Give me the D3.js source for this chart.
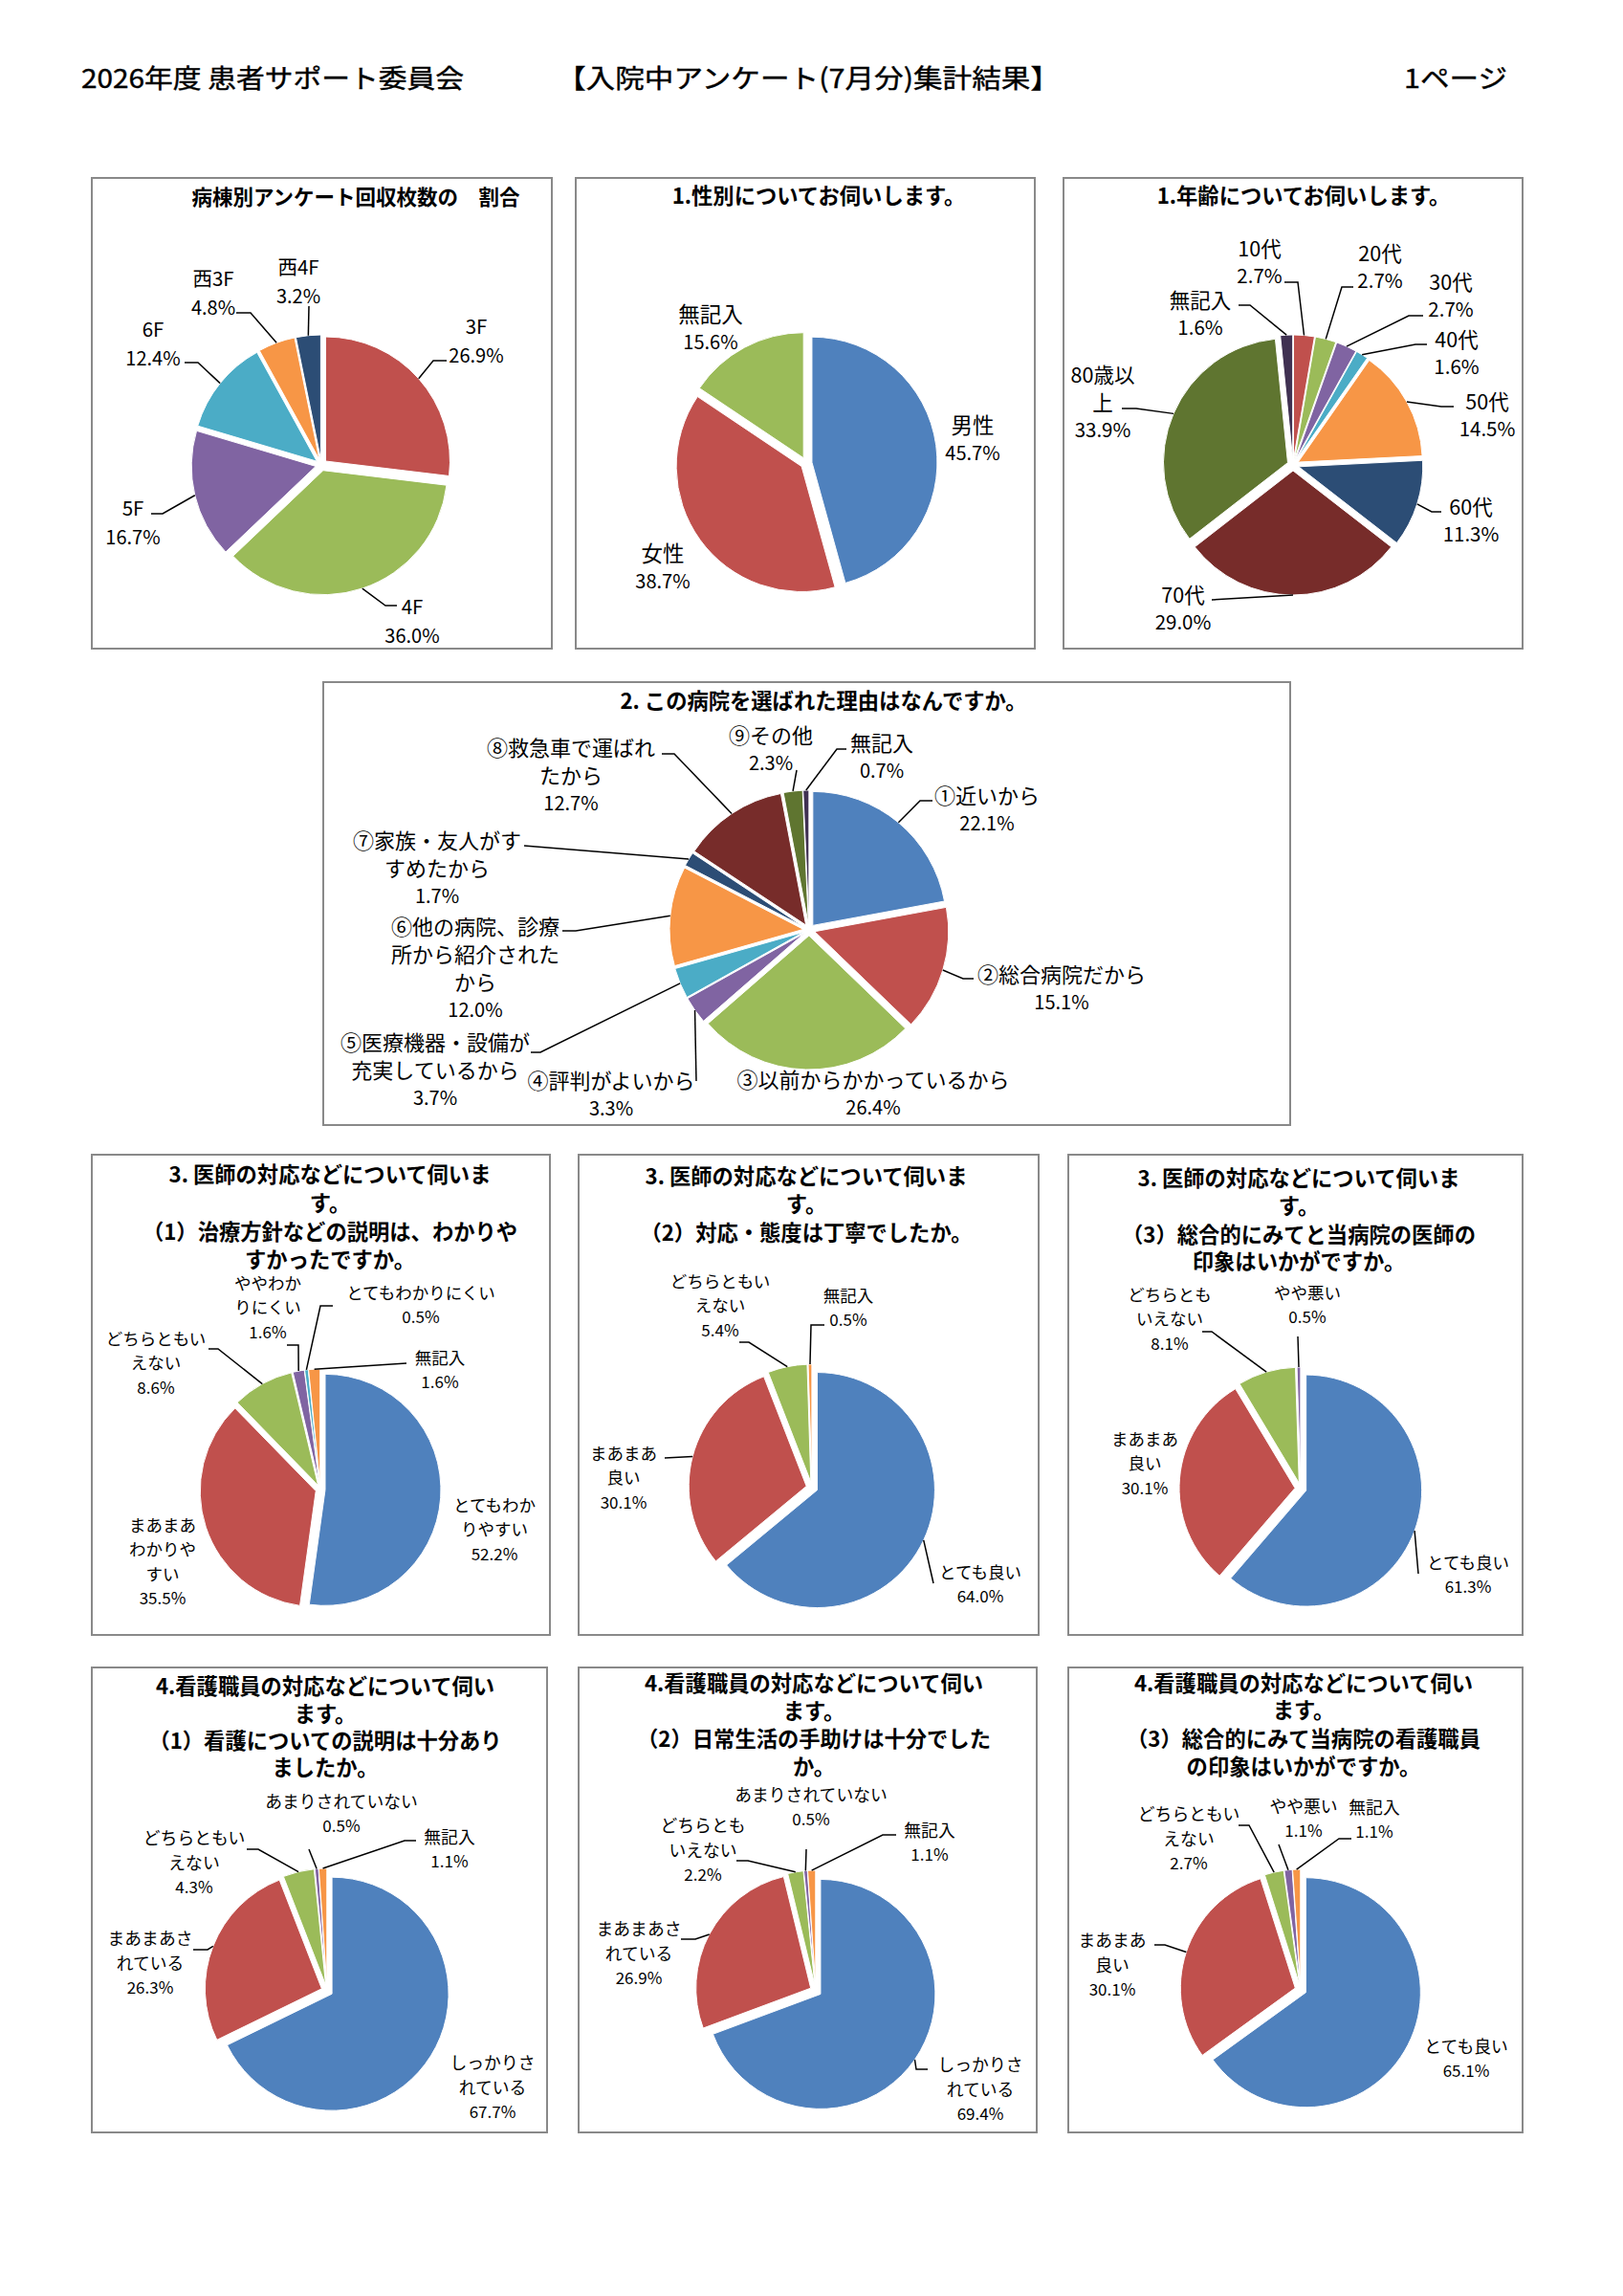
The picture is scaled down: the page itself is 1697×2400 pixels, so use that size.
<!DOCTYPE html>
<html><head><meta charset="utf-8">
<script src="https://cdn.jsdelivr.net/npm/d3@7"></script>
<style>body{margin:0;background:#fff}</style>
</head><body>
<svg id="c" width="1697" height="2400"></svg>
<script>
// ---------- DATA ----------
const wardLabels = ["3F","4F","5F","6F","西3F","西4F"];
const wardValues = [26.9,36.0,16.7,12.4,4.8,3.2];
const genderLabels = ["男性","女性","無記入"];
const genderValues = [45.7,38.7,15.6];
const ageLabels = ["10代","20代","30代","40代","50代","60代","70代","80歳以\n上","無記入"];
const ageValues = [2.7,2.7,2.7,1.6,14.5,11.3,29.0,33.9,1.6];
const reasonLabels = ["①近いから","②総合病院だから","③以前からかかっているから","④評判がよいから","⑤医療機器・設備が\n充実しているから","⑥他の病院、診療\n所から紹介された\nから","⑦家族・友人がす\nすめたから","⑧救急車で運ばれ\nたから","⑨その他","無記入"];
const reasonValues = [22.1,15.1,26.4,3.3,3.7,12.0,1.7,12.7,2.3,0.7];
const doc1Labels = ["とてもわか\nりやすい","まあまあ\nわかりや\nすい","どちらともい\nえない","ややわか\nりにくい","とてもわかりにくい","無記入"];
const doc1Values = [52.2,35.5,8.6,1.6,0.5,1.6];
const doc2Labels = ["とても良い","まあまあ\n良い","どちらともい\nえない","無記入"];
const doc2Values = [64.0,30.1,5.4,0.5];
const doc3Labels = ["とても良い","まあまあ\n良い","どちらとも\nいえない","やや悪い"];
const doc3Values = [61.3,30.1,8.1,0.5];
const nurse1Labels = ["しっかりさ\nれている","まあまあさ\nれている","どちらともい\nえない","あまりされていない","無記入"];
const nurse1Values = [67.7,26.3,4.3,0.5,1.1];
const nurse2Labels = ["しっかりさ\nれている","まあまあさ\nれている","どちらとも\nいえない","あまりされていない","無記入"];
const nurse2Values = [69.4,26.9,2.2,0.5,1.1];
const nurse3Labels = ["とても良い","まあまあ\n良い","どちらともい\nえない","やや悪い","無記入"];
const nurse3Values = [65.1,30.1,2.7,1.1,1.1];

const headerTexts = ["2026年度 患者サポート委員会","【入院中アンケート(7月分)集計結果】","1ページ"];
const titles = {
  ward:["病棟別アンケート回収枚数の　割合"],
  gender:["1.性別についてお伺いします。"],
  age:["1.年齢についてお伺いします。"],
  reason:["2. この病院を選ばれた理由はなんですか。"],
  doc1:["3. 医師の対応などについて伺いま","す。","（1）治療方針などの説明は、わかりや","すかったですか。"],
  doc2:["3. 医師の対応などについて伺いま","す。","（2）対応・態度は丁寧でしたか。"],
  doc3:["3. 医師の対応などについて伺いま","す。","（3）総合的にみてと当病院の医師の","印象はいかがですか。"],
  nurse1:["4.看護職員の対応などについて伺い","ます。","（1）看護についての説明は十分あり","ましたか。"],
  nurse2:["4.看護職員の対応などについて伺い","ます。","（2）日常生活の手助けは十分でした","か。"],
  nurse3:["4.看護職員の対応などについて伺い","ます。","（3）総合的にみて当病院の看護職員","の印象はいかがですか。"]
};

// ---------- STYLE / LAYOUT ----------
const C = {blue:"#4F81BD", red:"#C0504D", green:"#9BBB59", purple:"#8064A2", cyan:"#4BACC6",
  orange:"#F79646", navy:"#2C4D75", dred:"#772C2A", olive:"#5F7530", dpurple:"#403152"};
const FONT = "'Noto Sans CJK JP','Noto Sans',sans-serif";

const charts = [
 {labels:wardLabels, values:wardValues, title:titles.ward, colors:[C.red,C.green,C.purple,C.cyan,C.orange,C.navy],
  box:[96,186,577,678], tx:372, ty:[204], tfs:21.5, c:[336,486], r:130, e:6, cfs:20.5, pfs:20, lh:30,
  pos:[[162,-146],[95,147],[-197,44],[-176,-143],[-113,-196],[-24,-208]],
  lead:[[[131,-109],[117,-109]],[[79,147],[67,147]],[[-178,51],[-166,51]],[[-143,-107],[-129,-107]],[[-89,-159],[-74,-159]],[[-13,-166]]]},
 {labels:genderLabels, values:genderValues, title:titles.gender, colors:[C.blue,C.red,C.green],
  box:[602,186,1082,678], tx:856, ty:[203], tfs:22.3, c:[843,484], r:131, e:6, cfs:22.5, pfs:20, lh:29,
  pos:[[174,-41],[-150,93],[-100,-157]], lead:[null,null,null]},
 {labels:ageLabels, values:ageValues, title:titles.age, colors:[C.red,C.green,C.purple,C.cyan,C.orange,C.navy,C.dred,C.olive,C.dpurple],
  box:[1112,186,1592,678], tx:1363, ty:[203], tfs:22.3, c:[1352,486], r:130, e:6, cfs:21.5, pfs:20.5, lh:29,
  pos:[[-35,-228],[91,-223],[165,-193],[171,-133],[203,-68],[186,42],[-115,134],[-199,-96],[-97,-174]],
  lead:[[[-9,-191],[5,-191]],[[63,-186],[51,-186]],[[136,-156],[121,-156]],[[140,-126],[128,-126]],[[168,-61],[155,-61]],[[155,49],[145,49]],[[-85,141]],[[-179,-59],[-164,-59]],[[-57,-167],[-45,-167]]]},
 {labels:reasonLabels, values:reasonValues, title:titles.reason, colors:[C.blue,C.red,C.green,C.purple,C.cyan,C.orange,C.navy,C.dred,C.olive,C.dpurple],
  box:[338,713,1349,1176], tx:861, ty:[731], tfs:22.3, c:[846,972], r:140, e:6, cfs:22, pfs:20, lh:29,
  pos:[[186,-142],[264,45],[67,155],[-207,156],[-391,116],[-349,-5],[-389,-95],[-249,-192],[-40,-205],[76,-197]],
  lead:[[[129,-135],[116,-135]],[[172,51],[161,51]],null,[[-118,158]],[[-291,128],[-281,128]],[[-258,1],[-244,1]],[[-298,-88]],[[-154,-184],[-141,-184]],[[-13,-167]],[[39,-189],[29,-189]]]},
 {labels:doc1Labels, values:doc1Values, title:titles.doc1, colors:[C.blue,C.red,C.green,C.purple,C.cyan,C.orange],
  box:[96,1207,575,1709], tx:345, ty:[1226,1256,1286,1315], tfs:22.3, c:[335,1557], r:121, e:5, cfs:17.5, pfs:17, lh:25.5,
  pos:[[182,15],[-165,36],[-172,-159],[-55,-217],[105,-207],[125,-139]],
  lead:[null,null,[[-117,-147],[-107,-147]],[[-35,-151],[-23,-151]],[[13,-192],[0,-192]],[[90,-132]]]},
 {labels:doc2Labels, values:doc2Values, title:titles.doc2, colors:[C.blue,C.red,C.green,C.orange],
  box:[605,1207,1086,1709], tx:843, ty:[1228,1257,1287], tfs:22.3, c:[849,1555], r:123, e:6, cfs:17.5, pfs:17, lh:25.5,
  pos:[[176,87],[-197,-37],[-96,-217],[38,-202]],
  lead:[[[127,100]],[[-154,-31]],[[-76,-152],[-66,-152]],[[13,-170],[-1,-170]]]},
 {labels:doc3Labels, values:doc3Values, title:titles.doc3, colors:[C.blue,C.red,C.green,C.purple],
  box:[1117,1207,1592,1709], tx:1358, ty:[1230,1259,1289,1317], tfs:22.3, c:[1360,1556], r:121, e:6, cfs:17.5, pfs:17, lh:25.5,
  pos:[[175,76],[-163,-53],[-137,-204],[7,-206]],
  lead:[[[123,89]],null,[[-103,-164],[-93,-164]],[[-3,-159]]]},
 {labels:nurse1Labels, values:nurse1Values, title:titles.nurse1, colors:[C.blue,C.red,C.green,C.purple,C.orange],
  box:[96,1743,572,2229], tx:340, ty:[1761,1790,1818,1846], tfs:22.3, c:[342,2081], r:122, e:6, cfs:17.8, pfs:17, lh:25.5,
  pos:[[173,74],[-185,-56],[-139,-161],[15,-199],[128,-162]],
  lead:[null,[[-140,-43],[-125,-43]],[[-84,-148],[-72,-148]],[[-19,-148]],[[93,-157],[81,-157]]]},
 {labels:nurse2Labels, values:nurse2Values, title:titles.nurse2, colors:[C.blue,C.red,C.green,C.purple,C.orange],
  box:[605,1743,1084,2229], tx:851, ty:[1758,1787,1816,1845], tfs:22.3, c:[853,2081], r:120, e:6, cfs:17.8, pfs:17, lh:25.5,
  pos:[[172,76],[-185,-66],[-118,-174],[-5,-206],[119,-169]],
  lead:[[[117,82],[105,82]],[[-141,-54],[-126,-54]],[[-83,-136],[-71,-136]],[[-10,-148]],[[84,-163],[70,-163]]]},
 {labels:nurse3Labels, values:nurse3Values, title:titles.nurse3, colors:[C.blue,C.red,C.green,C.purple,C.orange],
  box:[1117,1743,1592,2229], tx:1363, ty:[1758,1786,1816,1845], tfs:22.3, c:[1360,2080], r:120, e:6, cfs:17.8, pfs:17, lh:25.5,
  pos:[[173,58],[-197,-53],[-117,-185],[3,-193],[77,-192]],
  lead:[null,[[-153,-47],[-142,-47]],[[-65,-172],[-54,-172]],[[-23,-152]],[[53,-158],[40,-158]]]}
];

// ---------- DRAW ----------
const svg = d3.select("#c");
svg.append("rect").attr("width",1697).attr("height",2400).attr("fill","#fff");

// header
const hdr = [[85,400],[582,526],[1468,108]];
headerTexts.forEach((t,i)=>{
  svg.append("text").attr("x",hdr[i][0]).attr("y",80).attr("dominant-baseline","central")
    .attr("font-family",FONT).attr("font-size",27.5).attr("fill","#000")
    .attr("stroke","#000").attr("stroke-width",0.4)
    .attr("textLength",hdr[i][1]).attr("lengthAdjust","spacingAndGlyphs").text(t);
});

const lineGen = d3.line();
charts.forEach(ch=>{
  const g = svg.append("g");
  const [x0,y0,x1,y1] = ch.box;
  g.append("rect").attr("x",x0).attr("y",y0).attr("width",x1-x0).attr("height",y1-y0)
    .attr("fill","#fff").attr("stroke","#898989").attr("stroke-width",2);
  ch.title.forEach((t,i)=>{
    g.append("text").attr("x",ch.tx).attr("y",ch.ty[i]).attr("text-anchor","middle")
      .attr("dominant-baseline","central").attr("font-family",FONT).attr("font-weight","bold")
      .attr("font-size",ch.tfs).attr("fill","#000").text(t);
  });
  const [cx,cy] = ch.c;
  const arcs = d3.pie().sort(null).value(d=>d)(ch.values);
  const arc = d3.arc().innerRadius(0).outerRadius(ch.r);
  const pg = g.append("g").attr("transform",`translate(${cx},${cy})`);
  pg.selectAll("path").data(arcs).join("path")
    .attr("d",arc)
    .attr("transform",d=>{const m=(d.startAngle+d.endAngle)/2; return `translate(${ch.e*Math.sin(m)},${-ch.e*Math.cos(m)})`;})
    .attr("fill",(d,i)=>ch.colors[i]).attr("stroke","#fff").attr("stroke-width",1);
  // leader lines
  arcs.forEach((d,i)=>{
    const L = ch.lead[i]; if(!L) return;
    const m=(d.startAngle+d.endAngle)/2, R=ch.r+ch.e;
    const pts = L.map(p=>[cx+p[0],cy+p[1]]);
    pts.push([cx+R*Math.sin(m), cy-R*Math.cos(m)]);
    g.append("path").attr("d",lineGen(pts)).attr("fill","none").attr("stroke","#000").attr("stroke-width",1.5);
  });
  // data labels
  arcs.forEach((d,i)=>{
    const lines = ch.labels[i].split("\n");
    const [dx,dy] = ch.pos[i];
    lines.forEach((t,j)=>{
      g.append("text").attr("x",cx+dx).attr("y",cy+dy+j*ch.lh).attr("text-anchor","middle")
        .attr("dominant-baseline","central").attr("font-family",FONT).attr("font-size",ch.cfs)
        .attr("fill","#000").text(t);
    });
    g.append("text").attr("x",cx+dx).attr("y",cy+dy+lines.length*ch.lh).attr("text-anchor","middle")
      .attr("dominant-baseline","central").attr("font-family",FONT).attr("font-size",ch.pfs)
      .attr("fill","#000").text(ch.values[i].toFixed(1)+"%");
  });
});
</script>
</body></html>
